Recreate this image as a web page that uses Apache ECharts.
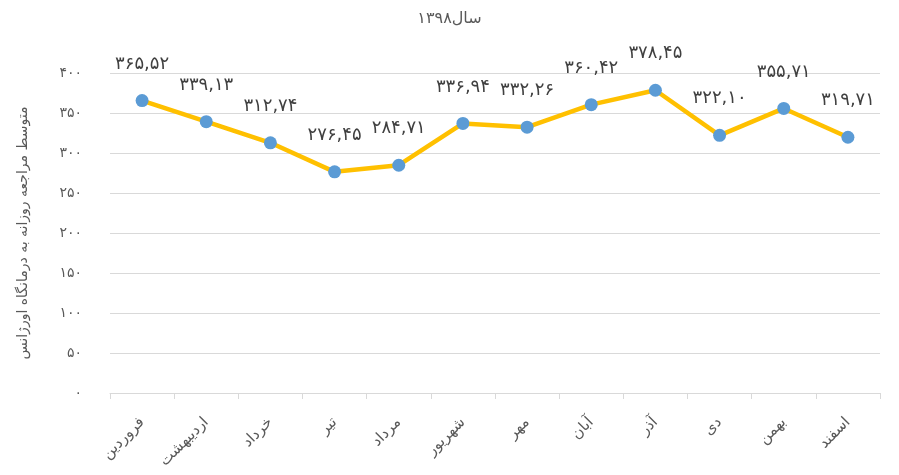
<!DOCTYPE html>
<html>
<head>
<meta charset="utf-8">
<script src="https://cdn.jsdelivr.net/npm/echarts@6/dist/echarts.min.js"></script>
<style>
  html, body { margin: 0; padding: 0; background: #fff; }
  #main { width: 899px; height: 475px; }
</style>
</head>
<body>
<div id="main"></div>
<script>
// ماه‌ها و مقادیر
var months = ['فروردین', 'اردیبهشت', 'خرداد', 'تیر', 'مرداد', 'شهریور', 'مهر', 'آبان', 'آذر', 'دی', 'بهمن', 'اسفند'];
var visits = [365.52, 339.13, 312.74, 276.45, 284.71, 336.94, 332.26, 360.42, 378.45, 322.10, 355.71, 319.71];
var yTicks = [0, 50, 100, 150, 200, 250, 300, 350, 400];

var faDigits = '۰۱۲۳۴۵۶۷۸۹';
function toFa(s) {
  return String(s).replace(/[0-9]/g, function (d) { return faDigits[+d]; });
}

var font = 'DejaVu Sans';
var chart = echarts.init(document.getElementById('main'));

chart.setOption({
  backgroundColor: '#fff',
  textStyle: { fontFamily: font },
  title: {
    text: 'سال' + toFa(1398),
    left: 'center',
    top: 6,
    textStyle: { fontFamily: font, fontSize: 16, fontWeight: 'normal', color: '#595959' }
  },
  grid: { left: 110, right: 19, top: 73, bottom: 82 },
  xAxis: {
    type: 'category',
    data: months,
    boundaryGap: true,
    axisLine: { lineStyle: { color: '#d9d9d9', width: 1 } },
    axisTick: { show: true, length: 6, lineStyle: { color: '#d9d9d9' } },
    axisLabel: { rotate: 45, fontSize: 15, color: '#595959', margin: 27, fontFamily: font }
  },
  yAxis: {
    type: 'value',
    min: yTicks[0],
    max: yTicks[yTicks.length - 1],
    interval: 50,
    name: 'متوسط مراجعه روزانه به درمانگاه اورژانس',
    nameLocation: 'middle',
    nameRotate: 90,
    nameGap: 80,
    nameTextStyle: { fontFamily: font, fontSize: 14, color: '#595959' },
    axisLine: { show: false },
    axisTick: { show: false },
    splitLine: { lineStyle: { color: '#d9d9d9', width: 1 } },
    axisLabel: {
      margin: 28,
      fontSize: 14,
      color: '#595959',
      fontFamily: font,
      formatter: function (v) { return toFa(v); }
    }
  },
  series: [{
    type: 'line',
    data: visits,
    symbol: 'circle',
    symbolSize: 13,
    lineStyle: { color: '#FFC000', width: 4.5 },
    itemStyle: { color: '#5B9BD5' },
    label: {
      show: true,
      position: 'top',
      distance: 21,
      fontSize: 18,
      color: '#404040',
      fontFamily: font,
      formatter: function (p) { return toFa(p.value.toFixed(2).replace('.', ',')); }
    },
    animation: false
  }]
});
</script>
</body>
</html>
